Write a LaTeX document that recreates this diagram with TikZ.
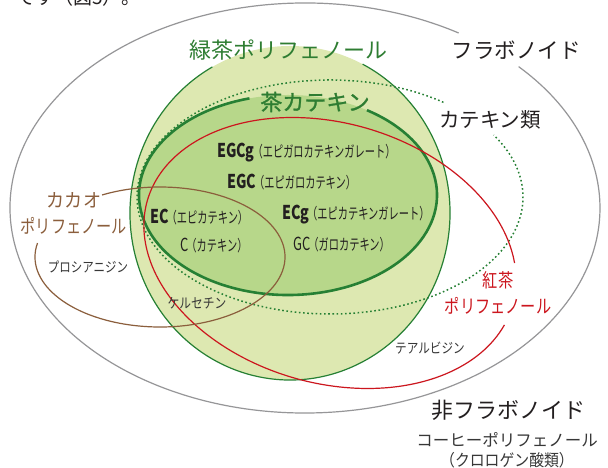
\documentclass[tikz,border=0pt]{standalone}
\usepackage{fontspec}
\usepackage{graphicx}
\setmainfont{Noto Sans CJK JP}
\newfontfamily\jpsemi[FakeBold=1.2]{Noto Sans CJK JP}
\definecolor{lgfillc}{RGB}{221,232,177}
\definecolor{dgfillc}{RGB}{183,215,138}
\definecolor{greenc}{RGB}{38,128,52}
\definecolor{labgreen}{RGB}{46,125,50}
\definecolor{redc}{RGB}{204,22,30}
\definecolor{brownc}{RGB}{139,94,60}
\definecolor{grayc}{RGB}{150,150,152}
\definecolor{inkc}{RGB}{35,31,32}
\definecolor{ink2c}{RGB}{55,55,55}
\newcommand\xs[2]{\scalebox{#1}[1]{#2}}
\newcommand\catb[2]{\xs{0.75}{\fontsize{19}{19}\selectfont\bfseries #1}\kern-2pt\xs{0.66}{\fontsize{15.5}{15.5}\selectfont #2}}
\newcommand\catr[2]{\xs{0.72}{\fontsize{18}{18}\selectfont #1}\kern-2pt\xs{0.66}{\fontsize{15.5}{15.5}\selectfont #2}}
\tikzset{
  grayline/.style={draw=grayc, line width=1.2pt},
  greenline/.style={draw=greenc, line width=1.2pt},
  catline/.style={draw=greenc, line width=2.6pt},
  dotline/.style={draw=greenc, line width=1.5pt, dash pattern=on 1.6pt off 2.6pt},
  redline/.style={draw=redc, line width=1.2pt},
  brownline/.style={draw=brownc, line width=1.2pt},
  lbl/.style={inner sep=0pt, align=center},
  catlbl/.style={inner sep=0pt, anchor=base west, text=inkc},
}
\begin{document}
\begin{tikzpicture}[x=1pt,y=1pt]
\useasboundingbox (0,0) rectangle (608,468);
\clip (0,0) rectangle (608,468);
\fill[white] (0,0) rectangle (608,468);
% outer flavonoid ellipse
\draw[grayline] (305,260) ++(58.6:295 and 205) arc[start angle=58.6, end angle=403.6, x radius=295, y radius=205];
% fills
\fill[lgfillc] (290,255) ellipse[x radius=160, y radius=167];
\fill[dgfillc] (288,273) ellipse[x radius=149, y radius=100];
% outlines
\draw[greenline] (290,255) ++(119:160 and 167) arc[start angle=119, end angle=423, x radius=160, y radius=167];
\draw[dotline] (330,271) ++(54:193 and 117) arc[start angle=54, end angle=392, x radius=193, y radius=117];
\draw[catline] (288,273) ++(105:149 and 100) arc[start angle=105, end angle=418, x radius=149, y radius=100];
\begin{scope}[shift={(330,215)}, rotate=-16]
  \draw[redline] (18.5:190 and 130) arc[start angle=18.5, end angle=350.7, x radius=190, y radius=130];
\end{scope}
\draw[brownline] (160,211) ++(168.5:125 and 70) arc[start angle=168.5, end angle=477.6, x radius=125, y radius=70];
% top cut text
\node[inner sep=0pt, anchor=base west, text=inkc, font=\fontsize{19}{19}\selectfont] (toptext) at (16,463) {です（図5）。};
% labels
\node[lbl, text=labgreen, font=\fontsize{22}{22}\selectfont] (lgt) at (288,418) {緑茶ポリフェノール};
\node[lbl, text=labgreen, font=\fontsize{22}{22}\jpsemi] (cat) at (315,366) {茶カテキン};
\node[lbl, text=inkc, font=\fontsize{21.5}{21.5}\selectfont] (flav) at (516,418) {フラボノイド};
\node[lbl, text=inkc, font=\fontsize{20.5}{20.5}\selectfont] (catr) at (490,348) {カテキン類};
\node[lbl, text=brownc, font=\fontsize{19}{26}\selectfont] (cacao) at (74,255) {\xs{0.95}{カカオ}\\\xs{0.8}{ポリフェノール}};
\node[lbl, text=redc, font=\fontsize{19}{26}\selectfont] (black) at (498,175) {\xs{0.8}{紅茶}\\\xs{0.8}{ポリフェノール}};
\node[lbl, text=inkc, font=\fontsize{22}{22}\selectfont] (nonflav) at (508,58) {非フラボノイド};
\node[lbl, text=ink2c, font=\fontsize{16.5}{20}\selectfont] (coffee) at (507,18) {コーヒーポリフェノール\\\xs{0.9}{（クロロゲン酸類）}};
\node[lbl, text=ink2c, font=\fontsize{14}{14}\selectfont] (pro) at (88,201) {\xs{0.82}{プロシアニジン}};
\node[lbl, text=ink2c, font=\fontsize{14}{14}\selectfont] (quer) at (197,165) {\xs{0.84}{ケルセチン}};
\node[lbl, text=ink2c, font=\fontsize{14}{14}\selectfont] (thea) at (430,120) {\xs{0.83}{テアルビジン}};
% catechin names
\node[catlbl] (egcg) at (217,310) {\catb{EGCg}{（エピガロカテキンガレート）}};
\node[catlbl] (egc) at (227,279) {\catb{EGC}{（エピガロカテキン）}};
\node[catlbl] (ec) at (150,244) {\catb{EC}{（エピカテキン）}};
\node[catlbl] (ecg) at (282,248) {\catb{ECg}{（エピカテキンガレート）}};
\node[catlbl] (c) at (180,216) {\catr{C}{（カテキン）}};
\node[catlbl] (gc) at (293,217) {\catr{GC}{（ガロカテキン）}};
\end{tikzpicture}
\end{document}
